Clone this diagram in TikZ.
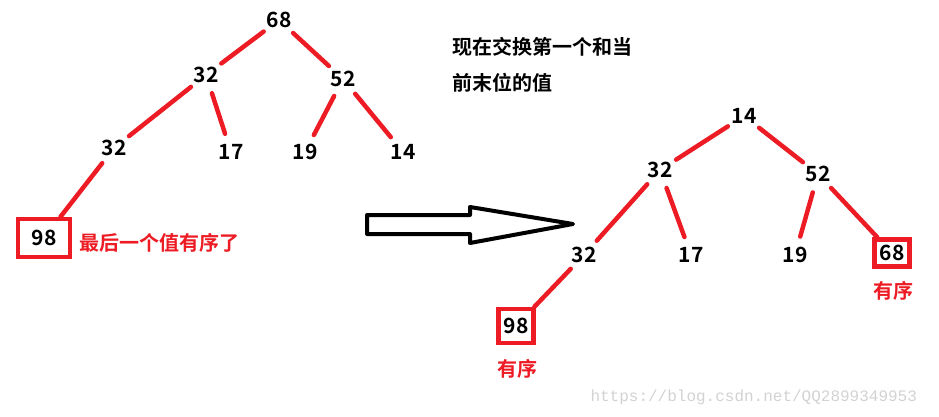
\documentclass[tikz,border=0pt]{standalone}
\usepackage{fontspec}
\setmainfont{Noto Sans CJK SC}[BoldFont={* Bold}]
\newfontfamily\wmfont{Liberation Mono}
\definecolor{heapred}{RGB}{237,28,36}

\begin{document}
\begin{tikzpicture}[x=1pt,y=-1pt,
    num/.style={font=\bfseries\fontsize{21}{21}\selectfont, circle, minimum size=38pt, inner sep=0pt},
    done/.style={font=\bfseries\fontsize{21}{21}\selectfont, draw=heapred, line width=4.5pt, inner sep=0pt},
    note/.style={font=\bfseries\fontsize{20}{20}\selectfont, inner sep=0pt},
    edge/.style={heapred, line width=4.5pt, line cap=round}]
    \useasboundingbox (0,0) rectangle (939,417);
    % heap before the swap
    \node[num] (a1) at (279,20) {68};
    \node[num] (a2) at (206,75) {32};
    \node[num] (a3) at (343,79) {52};
    \node[num] (a4) at (114,148) {32};
    \node[num] (a5) at (231,152) {17};
    \node[num] (a6) at (305,152) {19};
    \node[num] (a7) at (403,152) {14};
    \node[done, minimum width=52pt, minimum height=38pt] (a8) at (44,238) {98};
    \node[note, text=heapred, anchor=west] (t1) at (79,243) {最后一个值有序了};
    \foreach \p/\c in {a1/a2,a1/a3,a2/a4,a2/a5,a3/a6,a3/a7,a4/a8}
      \draw[edge] (\p) -- (\c);
    % text at the top
    \node[note, anchor=west] (t2) at (452,47) {现在交换第一个和当};
    \node[note, anchor=west] (t3) at (452,83) {前末位的值};
    % hollow arrow
    \draw[line width=4pt, line join=round, fill=white]
      (367,215) -- (470,215) -- (470,207) -- (573,224) -- (470,243) -- (470,234) -- (367,234) -- cycle;
    % heap after the swap
    \node[num] (b1) at (744,116) {14};
    \node[num] (b2) at (660,170) {32};
    \node[num] (b3) at (818,174) {52};
    \node[num] (b4) at (584,255) {32};
    \node[num] (b5) at (691,255) {17};
    \node[num] (b6) at (795,255) {19};
    \node[done, minimum width=35pt, minimum height=27pt] (b7) at (892,253) {68};
    \node[done, minimum width=35pt, minimum height=34pt] (b8) at (516,326) {98};
    \node[note, text=heapred] (t4) at (893,291) {有序};
    \node[note, text=heapred] (t5) at (517,369) {有序};
    \foreach \p/\c in {b1/b2,b1/b3,b2/b4,b2/b5,b3/b6,b3/b7,b4/b8}
      \draw[edge] (\p) -- (\c);
    \node[font=\wmfont\fontsize{16}{16}\selectfont, text=gray!35, anchor=west] (wm) at (587,397) {https://blog.csdn.net/QQ2899349953};
\end{tikzpicture}
\end{document}
